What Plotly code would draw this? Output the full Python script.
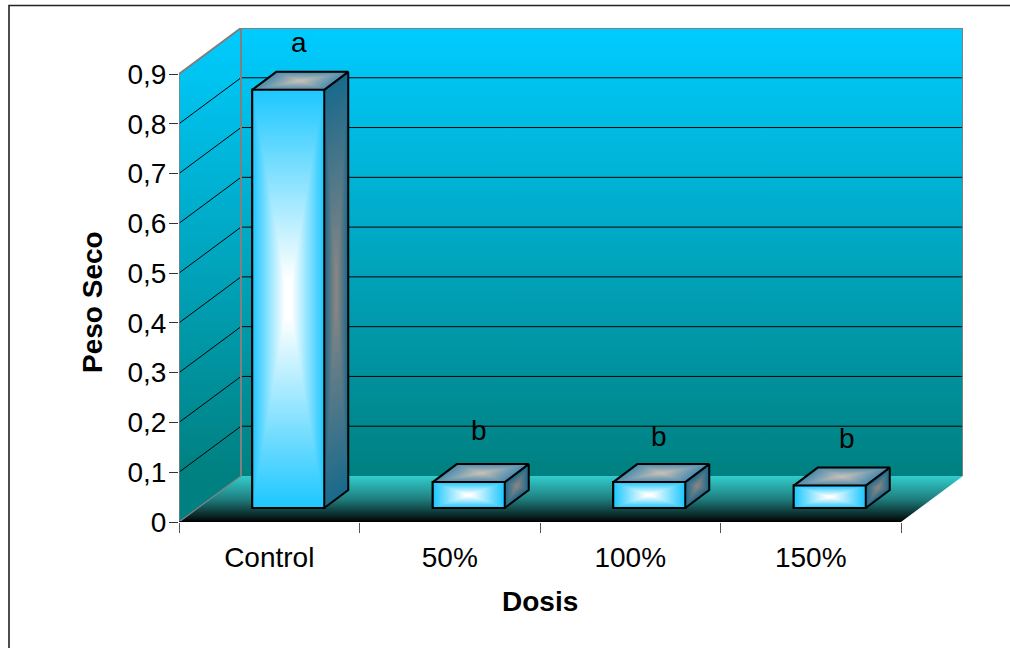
import plotly.graph_objects as go

# ---- data ----
categories = ["Control", "50%", "100%", "150%"]
values = [0.84, 0.052, 0.052, 0.045]
letters = ["a", "b", "b", "b"]
letter_x = [0.665, 1.66, 2.66, 3.70]
letter_y = [0.963, 0.183, 0.171, 0.167]
y_ticks = [0, 0.1, 0.2, 0.3, 0.4, 0.5, 0.6, 0.7, 0.8, 0.9]
y_labels = ["0", "0,1", "0,2", "0,3", "0,4", "0,5", "0,6", "0,7", "0,8", "0,9"]

# ---- geometry of the fake 3D box, in axis units ----
W, H = 1010, 648
ML, MR, MT, MB = 179, 47, 28, 126
DEPTH_X = 62 / 180.5
DEPTH_Y = 46 / 497.8
BAR_W = 72 / 180.5
BAR_SHIFT_X = 19 / 180.5
BAR_SHIFT_Y = 14 / 497.8
BAR_DX = 24 / 180.5
BAR_DY = 18 / 497.8
N_CAT = len(categories)
Y_MAX = 0.9
XR = [0, N_CAT + DEPTH_X]
YR = [0, Y_MAX + DEPTH_Y]
FONT = "Liberation Sans, Arial, sans-serif"
FS = 28

CYAN, TEAL = "#00CCFF", "#008080"
GREY = "#808080"

fig = go.Figure()


def grad_poly(xs, ys, stops, start, stop, xaxis="x", yaxis="y"):
    fig.add_trace(go.Scatter(
        x=xs + xs[:1], y=ys + ys[:1], mode="lines", fill="toself",
        line=dict(width=0), hoverinfo="skip", showlegend=False,
        fillgradient=dict(type="vertical", colorscale=stops, start=start, stop=stop),
        xaxis=xaxis, yaxis=yaxis))


def line(xs, ys, color, width, xaxis="x", yaxis="y"):
    fig.add_trace(go.Scatter(
        x=xs, y=ys, mode="lines", line=dict(color=color, width=width),
        hoverinfo="skip", showlegend=False, cliponaxis=False, xaxis=xaxis, yaxis=yaxis))


wall_stops = [[0, TEAL], [1, CYAN]]
# back wall
grad_poly([DEPTH_X, XR[1], XR[1], DEPTH_X], [DEPTH_Y, DEPTH_Y, YR[1], YR[1]], wall_stops, DEPTH_Y, YR[1])
# side wall
grad_poly([0, DEPTH_X, DEPTH_X, 0], [0, DEPTH_Y, YR[1], Y_MAX], wall_stops, DEPTH_Y, YR[1])
# floor
grad_poly([0, N_CAT, XR[1], DEPTH_X], [0, 0, DEPTH_Y, DEPTH_Y],
          [[0, "#000000"], [0.15, "#0A2A2A"], [0.5, "#1F7F7F"], [1, "#33CCCC"]], 0, DEPTH_Y)

# gridlines on back and side wall
gx, gy = [], []
for t in y_ticks[1:]:
    gx += [0, DEPTH_X, XR[1], None]
    gy += [t, t + DEPTH_Y, t + DEPTH_Y, None]
line(gx, gy, "#000000", 1)

# box edges
line([0, DEPTH_X, XR[1], XR[1]], [Y_MAX, YR[1], YR[1], DEPTH_Y], GREY, 2)
line([DEPTH_X, DEPTH_X], [YR[1], DEPTH_Y], GREY, 2)
line([0, DEPTH_X], [0, DEPTH_Y], GREY, 1.2)
line([0, 0], [0, Y_MAX], GREY, 1.5)
line([0, N_CAT], [0, 0], "#000000", 1.5)

# bars, on an overlaid pair of axes so they sit above the box
lefts = [i + 0.5 + BAR_SHIFT_X - BAR_W / 2 for i in range(N_CAT)]
fig.add_trace(go.Bar(
    x=[l + BAR_W / 2 for l in lefts], y=values, base=BAR_SHIFT_Y, width=BAR_W,
    marker=dict(color="#1FC8FF", line=dict(color="#000000", width=2)),
    hoverinfo="skip", showlegend=False, xaxis="x2", yaxis="y2"))


def lerp(c0, c1, t):
    a = [int(c0[i:i + 2], 16) for i in (1, 3, 5)]
    b = [int(c1[i:i + 2], 16) for i in (1, 3, 5)]
    return "rgb(%d,%d,%d)" % tuple(round(p + (q - p) * t) for p, q in zip(a, b))


def nested(xs, ys, edge, centre, n=50):
    cx, cy = sum(xs) / 4, sum(ys) / 4
    for k in range(n):
        s = 1 - k / n
        t = min(1, (k / n) / 0.9)
        px_ = [cx + (x - cx) * s for x in xs]
        py_ = [cy + (y - cy) * s for y in ys]
        fig.add_trace(go.Scatter(
            x=px_ + px_[:1], y=py_ + py_[:1], mode="lines", fill="toself",
            fillcolor=lerp(edge, centre, t), line=dict(width=0),
            hoverinfo="skip", showlegend=False, xaxis="x2", yaxis="y2"))


for i, (l, v) in enumerate(zip(lefts, values)):
    r = l + BAR_W
    b = BAR_SHIFT_Y
    tp = b + v
    front = ([l, r, r, l], [b, b, tp, tp])
    side = ([r, r + BAR_DX, r + BAR_DX, r], [b, b + BAR_DY, tp + BAR_DY, tp])
    top = ([l, r, r + BAR_DX, l + BAR_DX], [tp, tp, tp + BAR_DY, tp + BAR_DY])
    steps = 60 if v > 0.5 else 20
    nested(*front, "#1FC8FF", "#FFFFFF", steps)
    nested(*side, "#1A6A8C", "#858585", steps)
    nested(*top, "#4C8CAE", "#C2BEB6", 20)
    ox = [l, r, r, l, l, None, r, r + BAR_DX, r + BAR_DX, r, None,
          l, l + BAR_DX, r + BAR_DX]
    oy = [b, b, tp, tp, b, None, b, b + BAR_DY, tp + BAR_DY, tp, None,
          tp, tp + BAR_DY, tp + BAR_DY]
    line(ox, oy, "#000000", 2, "x2", "y2")

annotations = [dict(x=x, y=y, xref="x2", yref="y2", text=s, showarrow=False,
                    font=dict(family=FONT, size=FS, color="#000000"))
               for x, y, s in zip(letter_x, letter_y, letters)]


def px(x):
    return (x - ML) / (W - ML - MR)


def py(y):
    return 1 - (y - MT) / (H - MT - MB)


annotations += [
    dict(x=px(540), y=py(601), xref="paper", yref="paper", text="<b>Dosis</b>", showarrow=False,
         xanchor="center", yanchor="middle", font=dict(family=FONT, size=FS, color="#000000")),
    dict(x=px(92), y=py(302), xref="paper", yref="paper", text="<b>Peso Seco</b>", showarrow=False,
         xanchor="center", yanchor="middle", textangle=-90,
         font=dict(family=FONT, size=FS, color="#000000")),
]

# chart-area frame, running off the page at right and bottom
shapes = [dict(type="path", xref="paper", yref="paper",
               path=f"M {px(9)} {py(H + 5)} L {px(9)} {py(5.5)} L {px(W + 5)} {py(5.5)}",
               line=dict(color="#222222", width=1.6))]

fig.update_layout(
    width=W, height=H, autosize=False,
    margin=dict(l=ML, r=MR, t=MT, b=MB, pad=0),
    paper_bgcolor="#FFFFFF", plot_bgcolor="rgba(0,0,0,0)",
    showlegend=False, annotations=annotations, shapes=shapes,
    font=dict(family=FONT, size=FS, color="#000000"),
    xaxis=dict(range=XR, showgrid=False, zeroline=False, showline=False,
               tickmode="array", tickvals=[i + 0.5 for i in range(N_CAT)], ticktext=categories,
               ticks="outside", ticklen=10, tickcolor="rgba(0,0,0,0)",
               minor=dict(tickmode="array", tickvals=list(range(N_CAT + 1)), ticks="outside",
                          ticklen=10, tickcolor="#555555", tickwidth=1, showgrid=False),
               tickfont=dict(family=FONT, size=FS)),
    yaxis=dict(range=YR, showgrid=False, zeroline=False, showline=False,
               tickmode="array", tickvals=y_ticks, ticktext=y_labels,
               ticks="outside", ticklen=9, tickcolor="#333333", tickwidth=1,
               ticklabelstandoff=-3,
               tickfont=dict(family=FONT, size=FS)),
    xaxis2=dict(range=XR, overlaying="x", visible=False),
    yaxis2=dict(range=YR, overlaying="y", visible=False),
)

fig.write_html("out.html", config={"displayModeBar": False},
               post_script="document.body.style.margin='0';document.documentElement.style.overflow='hidden';")
